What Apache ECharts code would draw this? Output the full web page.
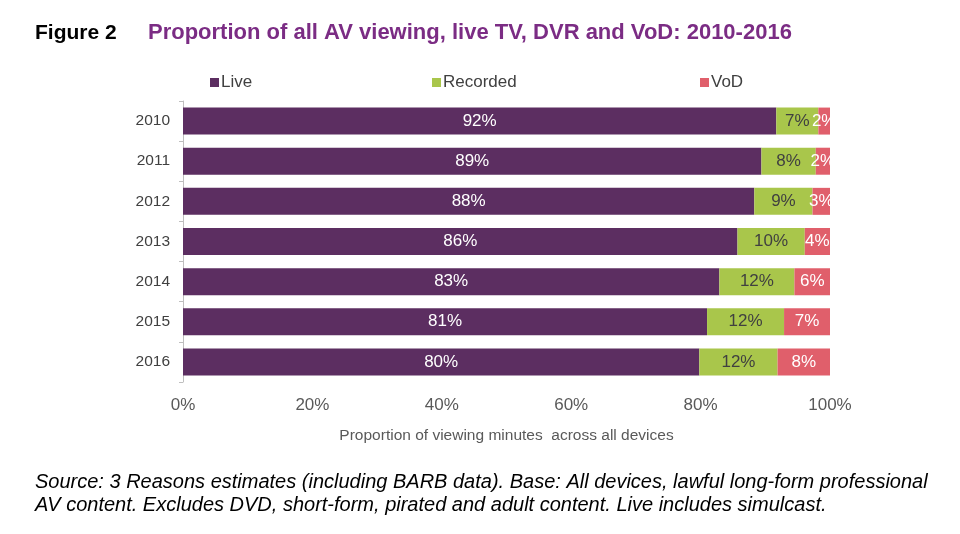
<!DOCTYPE html>
<html>
<head>
<meta charset="utf-8">
<script src="https://cdn.jsdelivr.net/npm/echarts@6/dist/echarts.min.js"></script>
<style>
html,body{margin:0;padding:0;background:#fff;}
#chart{width:960px;height:534px;}
</style>
</head>
<body>
<div id="chart"></div>
<script>
var years = ['2010','2011','2012','2013','2014','2015','2016'];
var live = [91.7, 89.4, 88.3, 85.7, 82.9, 81.0, 79.8];
var recorded = [6.5, 8.4, 9.0, 10.4, 11.6, 11.9, 12.1];
var vod = [1.8, 2.2, 2.7, 3.9, 5.5, 7.1, 8.1];
var xTicks = [0, 20, 40, 60, 80, 100];

var FONT = '"Liberation Sans", Arial, sans-serif';
var chart = echarts.init(document.getElementById('chart'));
function lbl(color){
  return {show:true, position:'inside', color:color, fontFamily:FONT, fontSize:17,
    formatter:function(p){return Math.round(p.value)+'%';}};
}
var legText = {fontFamily:FONT, fontSize:17, color:'#404040', padding:[0,0,0,-3]};
chart.setOption({
  animation:false,
  title:{
    left:30, top:17,
    text:'{a|Figure 2}{b|Proportion of all AV viewing, live TV, DVR and VoD: 2010-2016}',
    textStyle:{rich:{
      a:{fontFamily:FONT, fontSize:21, fontWeight:'bold', color:'#000', width:113},
      b:{fontFamily:FONT, fontSize:22, fontWeight:'bold', color:'#7b2c84'}
    }}
  },
  legend:[
    {left:205, top:69, data:['Live'], itemWidth:9, itemHeight:9, icon:'rect', textStyle:legText},
    {left:427, top:69, data:['Recorded'], itemWidth:9, itemHeight:9, icon:'rect', textStyle:legText},
    {left:695, top:69, data:['VoD'], itemWidth:9, itemHeight:9, icon:'rect', textStyle:legText}
  ],
  grid:{left:183, right:130, top:101, height:281},
  xAxis:{
    type:'value', min:0, max:100, interval:20,
    axisLine:{show:false}, axisTick:{show:false}, splitLine:{show:false},
    axisLabel:{formatter:function(v){return xTicks.indexOf(v)>=0? v+'%':'';}, fontFamily:FONT, fontSize:17, color:'#595959', margin:15},
    name:'Proportion of viewing minutes  across all devices', nameLocation:'middle', nameGap:46,
    nameTextStyle:{fontFamily:FONT, fontSize:15.5, color:'#595959'}
  },
  yAxis:{
    type:'category', data:years, inverse:true,
    axisLine:{show:true, lineStyle:{color:'#bfbfbf'}},
    axisTick:{show:true, length:4, lineStyle:{color:'#bfbfbf'}},
    axisLabel:{fontFamily:FONT, fontSize:15.5, color:'#404040', margin:13}
  },
  series:[
    {name:'Live', type:'bar', stack:'a', data:live, barWidth:27, itemStyle:{color:'#5c2e61'}, label:lbl('#ffffff')},
    {name:'Recorded', type:'bar', stack:'a', data:recorded, itemStyle:{color:'#a9c64b'}, label:lbl('#404040')},
    {name:'VoD', type:'bar', stack:'a', data:vod, itemStyle:{color:'#e05f6b'}, label:lbl('#ffffff')}
  ],
  graphic:[
    {type:'text', left:35, top:472, style:{text:'Source: 3 Reasons estimates (including BARB data). Base: All devices, lawful long-form professional', fontFamily:FONT, fontSize:20, fontStyle:'italic', fill:'#000'}},
    {type:'text', left:35, top:495, style:{text:'AV content. Excludes DVD, short-form, pirated and adult content. Live includes simulcast.', fontFamily:FONT, fontSize:20, fontStyle:'italic', fill:'#000'}}
  ]
});
</script>
</body>
</html>
